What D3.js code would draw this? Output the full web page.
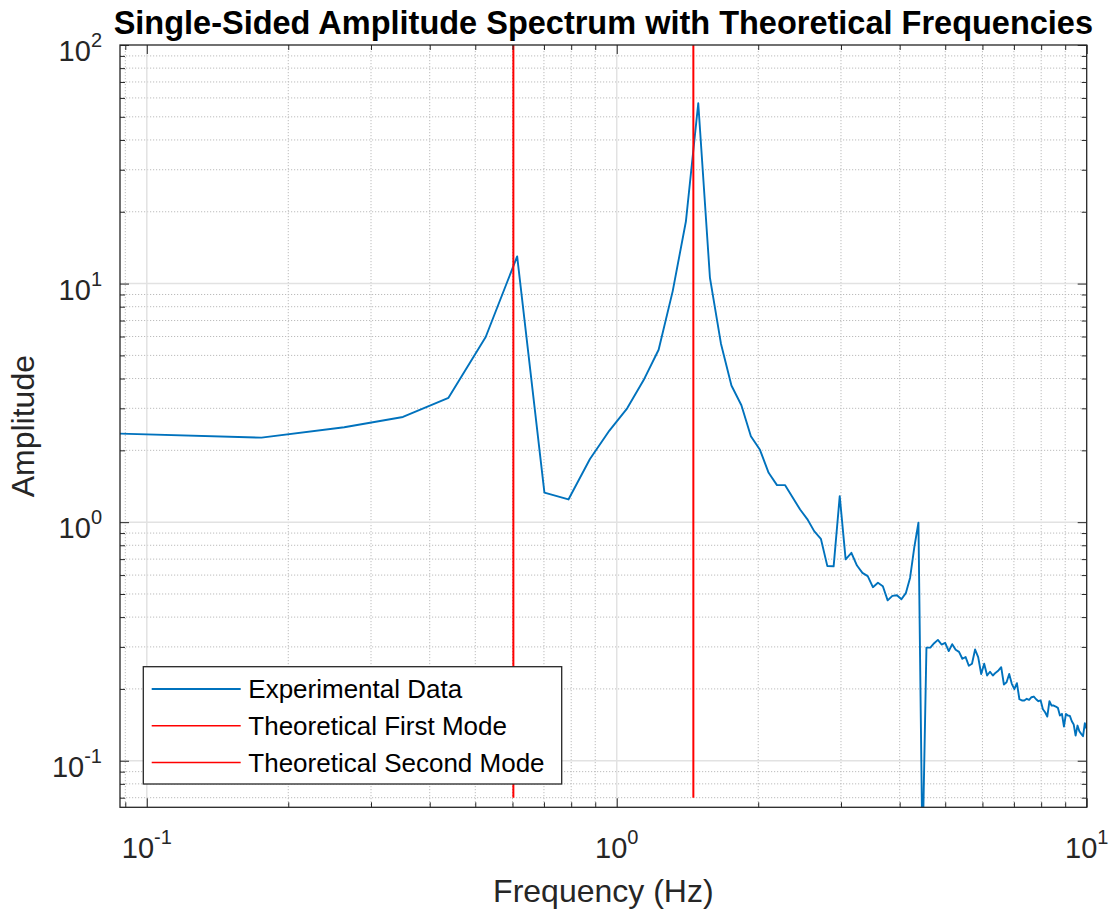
<!DOCTYPE html>
<html>
<head>
<meta charset="utf-8">
<script src="https://cdn.jsdelivr.net/npm/d3@7"></script>
<title>Single-Sided Amplitude Spectrum</title>
<style>
	body { margin: 0; background: #fff; }
	svg text { font-family: "Liberation Sans", Arial, sans-serif; fill: #262626; }
	.minor-grid { stroke: #bcbcbc; stroke-width: 1; stroke-dasharray: 1.2,1.8; }
	.major-grid { stroke: #e2e2e2; stroke-width: 1.5; }
	.tick line { stroke: #262626; }
</style>
</head>
<body>
<svg id="chart" width="1111" height="911"></svg>
<script>
	// frequency bins (Hz) and measured amplitude
	var freq = [0.0877, 0.1754, 0.2631, 0.3508, 0.4385, 0.5262, 0.6139, 0.7016, 0.7893, 0.877,
		0.9647, 1.0524, 1.1401, 1.2278, 1.3155, 1.4032, 1.4909, 1.5786, 1.6663, 1.754,
		1.8417, 1.9294, 2.0171, 2.1048, 2.1925, 2.2802, 2.3679, 2.4556, 2.5433, 2.631,
		2.7187, 2.8064, 2.8941, 2.9818, 3.0695, 3.1572, 3.2449, 3.3326, 3.4203, 3.508,
		3.5957, 3.6834, 3.7711, 3.8588, 3.9465, 4.0342, 4.1219, 4.2096, 4.2973, 4.385,
		4.4727, 4.5604, 4.6481, 4.7358, 4.8235, 4.9112, 4.9989, 5.0866, 5.1743, 5.262,
		5.3497, 5.4374, 5.5251, 5.6128, 5.7005, 5.7882, 5.8759, 5.9636, 6.0513, 6.139,
		6.2267, 6.3144, 6.4021, 6.4898, 6.5775, 6.6652, 6.7529, 6.8406, 6.9283, 7.016,
		7.1037, 7.1914, 7.2791, 7.3668, 7.4545, 7.5422, 7.6299, 7.7176, 7.8053, 7.893,
		7.9807, 8.0684, 8.1561, 8.2438, 8.3315, 8.4192, 8.5069, 8.5946, 8.6823, 8.77,
		8.8577, 8.9454, 9.0331, 9.1208, 9.2085, 9.2962, 9.3839, 9.4716, 9.5593, 9.647,
		9.7347, 9.8224, 9.9101, 9.9978];

	var amplitude = [2.35, 2.26, 2.50, 2.76, 3.32, 5.97, 13.0, 1.33, 1.245, 1.84,
		2.42, 3.0, 3.93, 5.28, 9.3, 18.2, 57, 10.6, 5.6, 3.74,
		3.09, 2.29, 2.01, 1.61, 1.43, 1.43, 1.27, 1.13, 1.03, 0.917,
		0.852, 0.654, 0.653, 1.285, 0.698, 0.744, 0.658, 0.613, 0.594, 0.534,
		0.557, 0.539, 0.47, 0.491, 0.494, 0.475, 0.504, 0.585, 0.786, 0.994,
		0.04, 0.298, 0.298, 0.311, 0.321, 0.307, 0.312, 0.288, 0.308, 0.292,
		0.286, 0.2675, 0.272, 0.25, 0.255, 0.2926, 0.272, 0.231, 0.255, 0.2276,
		0.236, 0.2276, 0.234, 0.239, 0.2466, 0.2087, 0.2133, 0.231, 0.21, 0.1995,
		0.2113, 0.181, 0.1789, 0.1789, 0.1818, 0.18, 0.1846, 0.1858, 0.181, 0.1776,
		0.1789, 0.1644, 0.1597, 0.1532, 0.1776, 0.1703, 0.1703, 0.1687, 0.1666, 0.1547,
		0.1572, 0.139, 0.1572, 0.1547, 0.1542, 0.1464, 0.1418, 0.1275, 0.1404, 0.133,
		0.1296, 0.1267, 0.1437, 0.136];

	// theoretical natural frequencies (Hz)
	var modeFreqs = [0.6026, 1.4555];
	var modeRange = [0.07, 100];

	var xMajor = [0.1, 1, 10];
	var yMajor = [0.1, 1, 10, 100];
	var xMinor = [0.09, 0.2, 0.3, 0.4, 0.5, 0.6, 0.7, 0.8, 0.9, 2, 3, 4, 5, 6, 7, 8, 9];
	var yMinor = [0.07, 0.08, 0.09, 0.2, 0.3, 0.4, 0.5, 0.6, 0.7, 0.8, 0.9,
		2, 3, 4, 5, 6, 7, 8, 9, 20, 30, 40, 50, 60, 70, 80, 90];
	var xExp = ["-1", "0", "1"];
	var yExp = ["-1", "0", "1", "2"];

	var legendLabels = ["Experimental Data", "Theoretical First Mode", "Theoretical Second Mode"];
	var legendColors = ["#0072BD", "#FF0000", "#FF0000"];

	var pLeft = 120, pRight = 1086.7, pTop = 45, pBottom = 807.3;

	var x = d3.scaleLog().domain([0.0877, 10]).range([pLeft, pRight]);
	var y = d3.scaleLog().domain([0.0638, 100]).range([pBottom, pTop]);

	var svg = d3.select("#chart");

	svg.append("defs").append("clipPath").attr("id", "plotclip")
		.append("rect")
		.attr("x", pLeft).attr("y", pTop)
		.attr("width", pRight - pLeft).attr("height", pBottom - pTop);

	// grid
	var grid = svg.append("g");
	grid.selectAll(".xminor").data(xMinor).enter().append("line")
		.attr("class", "minor-grid")
		.attr("x1", function(d) { return x(d); }).attr("x2", function(d) { return x(d); })
		.attr("y1", pTop).attr("y2", pBottom);
	grid.selectAll(".yminor").data(yMinor).enter().append("line")
		.attr("class", "minor-grid")
		.attr("y1", function(d) { return y(d); }).attr("y2", function(d) { return y(d); })
		.attr("x1", pLeft).attr("x2", pRight);
	grid.selectAll(".xmajor").data(xMajor.slice(0, 2)).enter().append("line")
		.attr("class", "major-grid")
		.attr("x1", function(d) { return x(d); }).attr("x2", function(d) { return x(d); })
		.attr("y1", pTop).attr("y2", pBottom);
	grid.selectAll(".ymajor").data(yMajor.slice(0, 3)).enter().append("line")
		.attr("class", "major-grid")
		.attr("y1", function(d) { return y(d); }).attr("y2", function(d) { return y(d); })
		.attr("x1", pLeft).attr("x2", pRight);

	// data
	var line = d3.line()
		.x(function(d, i) { return x(freq[i]); })
		.y(function(d) { return y(d); });

	var plot = svg.append("g").attr("clip-path", "url(#plotclip)");

	plot.append("path")
		.datum(amplitude)
		.attr("fill", "none")
		.attr("stroke", "#0072BD")
		.attr("stroke-width", 1.9)
		.attr("stroke-linejoin", "round")
		.attr("d", line);

	plot.selectAll(".mode").data(modeFreqs).enter().append("line")
		.attr("class", "mode")
		.style("stroke", "#FF0000")
		.style("stroke-width", 2)
		.attr("x1", function(d) { return x(d); }).attr("x2", function(d) { return x(d); })
		.attr("y1", y(modeRange[0])).attr("y2", y(modeRange[1]));

	// axes: ticks inside, on all four sides
	function ticks(axis, vals, size) {
		return axis.tickValues(vals).tickSize(-size).tickFormat("");
	}
	[[xMajor, 9], [xMinor, 5]].forEach(function(t) {
		svg.append("g").attr("transform", "translate(0," + pBottom + ")")
			.call(ticks(d3.axisBottom(x), t[0], t[1]));
		svg.append("g").attr("transform", "translate(0," + pTop + ")")
			.call(ticks(d3.axisTop(x), t[0], t[1]));
	});
	[[yMajor, 9], [yMinor, 5]].forEach(function(t) {
		svg.append("g").attr("transform", "translate(" + pLeft + ",0)")
			.call(ticks(d3.axisLeft(y), t[0], t[1]));
		svg.append("g").attr("transform", "translate(" + pRight + ",0)")
			.call(ticks(d3.axisRight(y), t[0], t[1]));
	});
	svg.selectAll(".domain").remove();

	svg.append("rect")
		.attr("x", pLeft).attr("y", pTop)
		.attr("width", pRight - pLeft).attr("height", pBottom - pTop)
		.attr("fill", "none")
		.attr("stroke", "#262626")
		.attr("stroke-width", 1.3);

	// tick labels 10^n
	var xl = svg.selectAll(".xlab").data(xMajor).enter().append("text")
		.attr("x", function(d) { return x(d); })
		.attr("y", 858)
		.attr("text-anchor", "middle")
		.style("font-size", "29px");
	xl.append("tspan").text("10");
	xl.append("tspan").attr("dy", -14).style("font-size", "20px")
		.text(function(d, i) { return xExp[i]; });

	var yl = svg.selectAll(".ylab").data(yMajor).enter().append("text")
		.attr("x", 102)
		.attr("y", function(d) { return y(d) + 16; })
		.attr("text-anchor", "end")
		.style("font-size", "29px");
	yl.append("tspan").text("10");
	yl.append("tspan").attr("dy", -14).style("font-size", "20px")
		.text(function(d, i) { return yExp[i]; });

	// labels and title
	svg.append("text")
		.attr("x", (pLeft + pRight) / 2).attr("y", 902)
		.attr("text-anchor", "middle")
		.style("font-size", "32px")
		.text("Frequency (Hz)");

	svg.append("text")
		.attr("transform", "translate(34," + (pTop + pBottom) / 2 + ") rotate(-90)")
		.attr("text-anchor", "middle")
		.style("font-size", "32px")
		.text("Amplitude");

	svg.append("text")
		.attr("x", (pLeft + pRight) / 2).attr("y", 34)
		.attr("text-anchor", "middle")
		.style("font-size", "32.5px")
		.style("font-weight", "bold")
		.style("fill", "#000")
		.text("Single-Sided Amplitude Spectrum with Theoretical Frequencies");

	// legend
	var legend = svg.append("g");
	legend.append("rect")
		.attr("x", 143.3).attr("y", 666.7)
		.attr("width", 418.4).attr("height", 117.3)
		.attr("fill", "#fff")
		.attr("stroke", "#262626")
		.attr("stroke-width", 1.3);
	var rows = legend.selectAll(".row").data(legendLabels).enter().append("g")
		.attr("transform", function(d, i) { return "translate(0," + (689 + i * 36.8) + ")"; });
	rows.append("line")
		.attr("x1", 151.7).attr("x2", 240.7)
		.attr("stroke", function(d, i) { return legendColors[i]; })
		.attr("stroke-width", function(d, i) { return i == 0 ? 1.9 : 1.5; });
	rows.append("text")
		.attr("x", 248.3).attr("dy", "0.36em")
		.style("font-size", "26px")
		.style("fill", "#000")
		.text(function(d) { return d; });
</script>
</body>
</html>
